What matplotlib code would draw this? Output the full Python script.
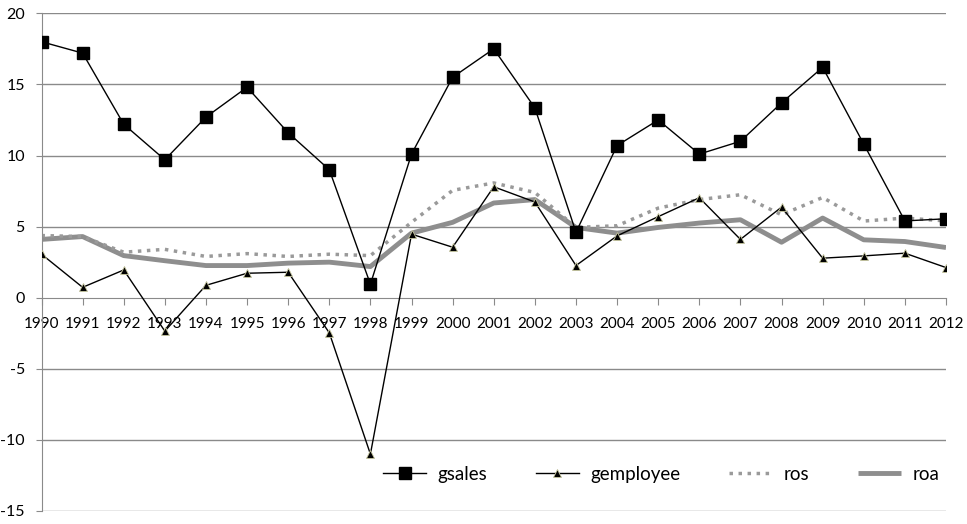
import matplotlib
matplotlib.use("Agg")
import matplotlib.pyplot as plt

years = list(range(1990, 2013))

gsales = [18.0, 17.2, 12.2, 9.7, 12.7, 14.8, 11.6, 9.0, 0.95, 10.1, 15.5, 17.5,
          13.35, 4.6, 10.7, 12.5, 10.1, 11.0, 13.7, 16.2, 10.8, 5.4, 5.55]
gemployee = [3.06, 0.73, 1.95, -2.35, 0.87, 1.72, 1.79, -2.47, -11.0, 4.47, 3.55, 7.8,
             6.73, 2.26, 4.35, 5.7, 7.03, 4.1, 6.37, 2.78, 2.94, 3.13, 2.12]
ros = [4.37, 4.3, 3.2, 3.4, 2.9, 3.1, 2.9, 3.06, 2.96, 5.3, 7.55, 8.07,
       7.4, 4.94, 5.06, 6.3, 6.9, 7.24, 5.83, 7.05, 5.39, 5.6, 5.4]
roa = [4.1, 4.3, 2.96, 2.6, 2.26, 2.26, 2.43, 2.5, 2.19, 4.54, 5.3, 6.66,
       6.9, 4.94, 4.54, 4.94, 5.25, 5.48, 3.9, 5.6, 4.07, 3.95, 3.53]

plt.rcParams['font.family'] = ['Lato', 'DejaVu Sans']
plt.rcParams['axes.unicode_minus'] = False

fig = plt.figure(figsize=(9.67, 5.24), dpi=100)
ax = fig.add_axes([41.5 / 967, 1 - 511 / 524, (946 - 41.5) / 967, (511 - 13.3) / 524])

grid_c = '#8a8a8a'
# horizontal gridlines (0 is the axis line itself)
for v in range(-15, 25, 5):
    if v != 0:
        ax.axhline(v, color=grid_c, lw=1.0, zorder=0)

ax.plot(years, roa, color='#8e8e8e', lw=3.5, label='roa', zorder=2, solid_capstyle='butt')
ax.plot(years, ros, color='#9a9a9a', lw=2.5, ls=(0, (1, 1.6)), label='ros', zorder=2)
ax.plot(years, gemployee, color='black', lw=1.0, marker='^', markersize=6,
        markerfacecolor='black', markeredgecolor='#c8c8a0', markeredgewidth=0.6,
        label='gemployee', zorder=3)
ax.plot(years, gsales, color='black', lw=1.0, marker='s', markersize=8,
        markerfacecolor='black', markeredgecolor='black', label='gsales', zorder=4)

ax.set_xlim(1990, 2012)
ax.set_ylim(-15, 20)
ax.set_yticks(range(-15, 25, 5))
ax.set_xticks(years)
ax.set_xticklabels([str(y) for y in years])

for s in ['top', 'right']:
    ax.spines[s].set_visible(False)
ax.spines['bottom'].set_position(('data', 0))
ax.spines['bottom'].set_color(grid_c)
ax.spines['left'].set_color(grid_c)

ax.tick_params(axis='x', direction='out', length=5, color=grid_c, pad=9,
               labelsize=11, labelcolor='black')
ax.tick_params(axis='y', direction='out', length=4, color=grid_c, pad=8,
               labelsize=11.5, labelcolor='black')

handles, labels = ax.get_legend_handles_labels()
order = [3, 2, 1, 0]
ax.legend([handles[i] for i in order], [labels[i] for i in order],
          loc='center', bbox_to_anchor=(0.685, 0.074), ncol=4, frameon=False,
          fontsize=13.5, handlelength=2.3, columnspacing=2.6, handletextpad=0.6)

fig.savefig('out.png', dpi=100)
